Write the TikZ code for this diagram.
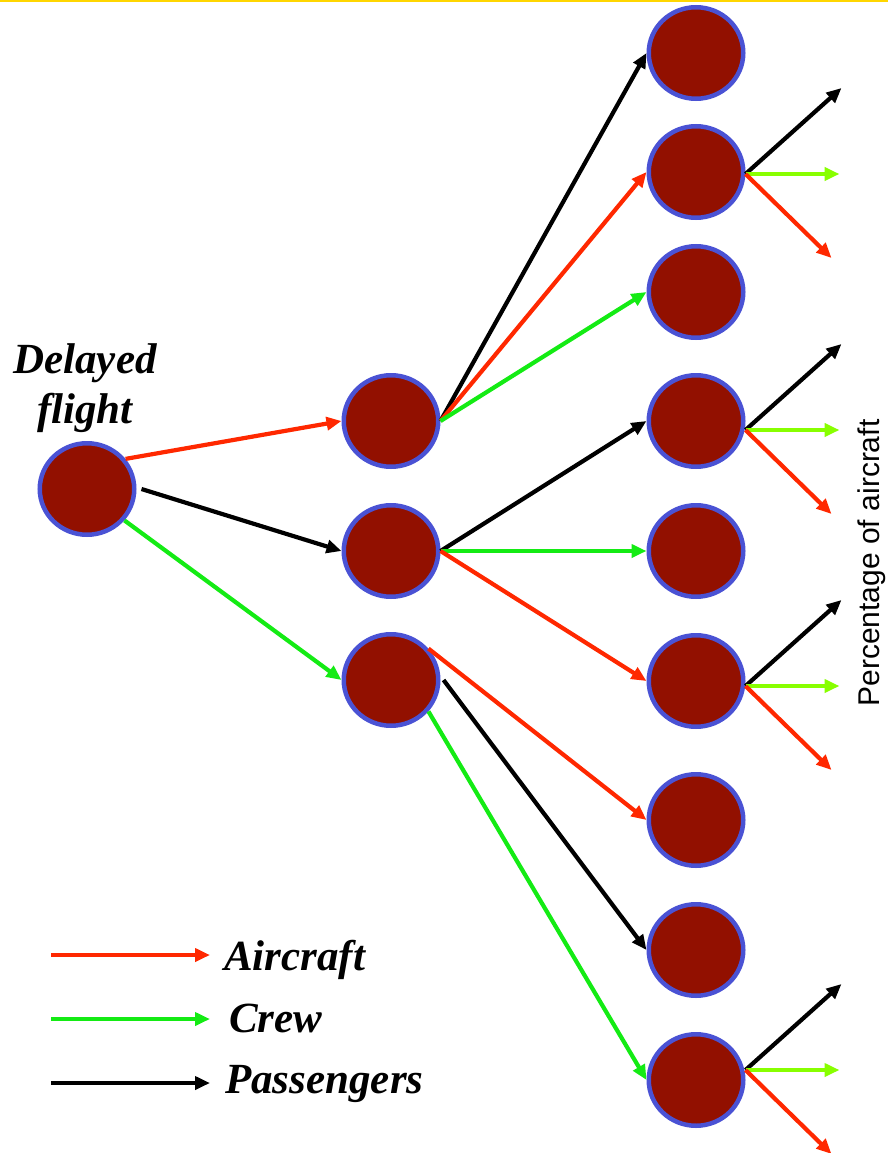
\documentclass[tikz,border=0pt]{standalone}
\usepackage{fontspec}
\setmainfont{Liberation Serif}
\setsansfont{Liberation Sans}
\usetikzlibrary{arrows.meta, shapes.geometric}
\definecolor{bulb}{RGB}{146,16,0}
\definecolor{rim}{RGB}{74,82,212}
\definecolor{acred}{RGB}{255,40,0}
\definecolor{crewgreen}{RGB}{20,235,20}
\definecolor{outlime}{RGB}{136,255,0}
\definecolor{topbar}{RGB}{255,214,0}

\begin{document}
\begin{tikzpicture}[x=1pt, y=-1pt,
    state/.style = {ellipse, draw=rim, fill=bulb, line width=4.5pt, minimum width=94.5pt, minimum height=91.5pt, inner sep=0pt},
    link/.style = {line width=4.2pt, -{Triangle[length=15pt, width=13pt]}},
    aircraft/.style = {link, acred},
    crew/.style = {link, crewgreen},
    pax/.style = {link, black},
    share/.style = {link, outlime},
    lbl/.style = {font=\fontsize{43}{50}\selectfont\bfseries\itshape, inner sep=0pt}]
    \useasboundingbox (0,0) rectangle (888,1153);
    \draw[topbar, line width=3pt] (0,1) -- (888,1);

    % the delayed flight and its two stages of knock-on delays
    \node [state] (root) at (87,489) {};
    \node [lbl, align=center] (delayed) at (85,388) {Delayed\\flight};
    \foreach \y [count=\i] in {421,551,680}
        \node [state] (m\i) at (391,\y) {};
    \foreach \y [count=\i] in {53,172,292,421,551,681,820,950,1080}
        \node [state] (r\i) at (696,\y) {};

    \draw[aircraft] (root.38) -- (m1.west);
    \draw[pax] ([xshift=5pt]root.east) -- (m2.west);
    \draw[crew] (root.-40) -- (m3.west);

    \draw[pax] (m1.east) -- (r1.west);
    \draw[aircraft] (m1.east) -- (r2.west);
    \draw[crew] (m1.east) -- (r3.west);

    \draw[pax] (m2.east) -- (r4.west);
    \draw[crew] (m2.east) -- (r5.west);
    \draw[aircraft] (m2.east) -- (r6.west);

    \draw[aircraft] (m3.40) -- (r7.west);
    \draw[pax] ([xshift=3pt]m3.east) -- (r8.west);
    \draw[crew] (m3.-40) -- (r9.west);

    % fan-out of the third stage
    \foreach \n/\dy in {2/-2,4/-9,6/-5,9/10} {
        \coordinate (o\n) at ([yshift=\dy pt]r\n.east);
        \path (o\n) +(96,-86) coordinate (o\n-pax) +(94,0) coordinate (o\n-crew) +(86,84) coordinate (o\n-air);
        \draw[pax] (o\n) -- (o\n-pax);
        \draw[share] (o\n) -- (o\n-crew);
        \draw[aircraft] (o\n) -- (o\n-air);
    }

    \node [font=\sffamily\fontsize{30}{36}\selectfont, rotate=90] (pct) at (872,563) {Percentage of aircraft};

    % legend
    \node [lbl, anchor=base west] (air) at (224,970) {Aircraft};
    \node [lbl, anchor=base west] (crw) at (229,1032) {Crew};
    \node [lbl, anchor=base west] (pas) at (225,1093) {Passengers};
    \coordinate (k1) at (51,955);
    \coordinate (k2) at (51,1019);
    \coordinate (k3) at (51,1083);
    \draw[aircraft, shorten >=14pt] (k1) -- (k1 -| air.west);
    \draw[crew, shorten >=19pt] (k2) -- (k2 -| crw.west);
    \draw[pax, shorten >=15pt] (k3) -- (k3 -| pas.west);
\end{tikzpicture}
\end{document}
